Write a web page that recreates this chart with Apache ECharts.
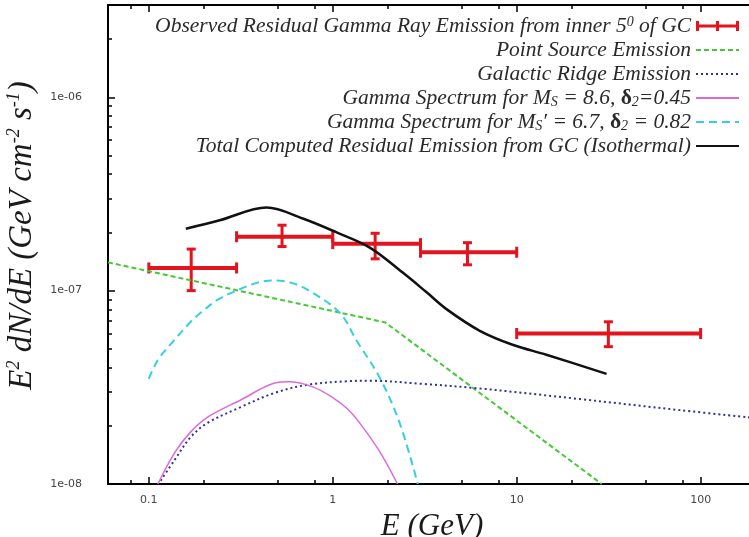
<!DOCTYPE html>
<html>
<head>
<meta charset="utf-8">
<script src="https://cdn.jsdelivr.net/npm/echarts@6/dist/echarts.min.js"></script>
<style>
  html, body { margin: 0; padding: 0; background: #fff; }
  #chart { width: 749px; height: 537px; }
</style>
</head>
<body>
<div id="chart"></div>
<script>
// Measured residual emission: energy bins (GeV) and E^2 dN/dE with errors
const binLow = [0.1, 0.3, 1, 3, 10];
const binHigh = [0.3, 1, 3, 10, 100];
const binCentre = [0.17, 0.53, 1.7, 5.4, 31.5];
const obsFlux = [1.31e-7, 1.9e-7, 1.75e-7, 1.58e-7, 6.0e-8];
const obsFluxLow = [1.0e-7, 1.69e-7, 1.46e-7, 1.36e-7, 5.13e-8];
const obsFluxHigh = [1.64e-7, 2.18e-7, 1.98e-7, 1.77e-7, 6.9e-8];

// Model components
const pointSourceE = [0.06, 1.93, 29];
const pointSourceFlux = [1.40e-7, 6.85e-8, 1.0e-8];

const ridgeE = [0.116, 0.138, 0.169, 0.209, 0.316, 0.484, 0.73, 1.2, 1.6, 3, 6.3, 22, 77, 200];
const ridgeFlux = [1.04e-8, 1.33e-8, 1.75e-8, 2.07e-8, 2.5e-8, 2.96e-8, 3.26e-8, 3.4e-8, 3.42e-8, 3.3e-8, 3.12e-8, 2.75e-8, 2.41e-8, 2.19e-8];

const spec86E = [0.112, 0.138, 0.169, 0.209, 0.316, 0.484, 0.58, 0.78, 1.0, 1.2, 1.4, 1.8, 2.25];
const spec86Flux = [1.0e-8, 1.45e-8, 1.86e-8, 2.22e-8, 2.72e-8, 3.33e-8, 3.38e-8, 3.18e-8, 2.8e-8, 2.45e-8, 2.07e-8, 1.47e-8, 1.0e-8];

const spec67E = [0.1, 0.112, 0.138, 0.169, 0.192, 0.237, 0.293, 0.39, 0.484, 0.59, 0.73, 1.09, 1.35, 1.8, 2.31, 2.9];
const spec67Flux = [3.5e-8, 4.38e-8, 5.57e-8, 6.9e-8, 7.7e-8, 8.98e-8, 9.9e-8, 1.1e-7, 1.13e-7, 1.1e-7, 1.01e-7, 7.7e-8, 5.5e-8, 3.55e-8, 2.07e-8, 1.0e-8];

const totalE = [0.159, 0.243, 0.437, 0.687, 1.05, 1.59, 2.4, 3.24, 4.17, 6.3, 9.5, 14.5, 30.8];
const totalFlux = [2.09e-7, 2.31e-7, 2.69e-7, 2.36e-7, 2.0e-7, 1.67e-7, 1.24e-7, 9.8e-8, 8.0e-8, 6.2e-8, 5.25e-8, 4.66e-8, 3.71e-8];

// Axis ticks and labels
const xMajorTicks = [0.1, 1, 10, 100];
const xTickLabels = ['0.1', '1', '10', '100'];
const xMinorTicks = [0.08, 0.2, 0.5, 0.8, 2, 5, 8, 20, 50, 80];
const yMajorTicks = [1e-8, 1e-7, 1e-6];
const yTickLabels = ['1e-08', '1e-07', '1e-06'];
const yMinorTicks = [2e-8, 3e-8, 4e-8, 5e-8, 6e-8, 7e-8, 8e-8, 9e-8,
                     2e-7, 3e-7, 4e-7, 5e-7, 6e-7, 7e-7, 8e-7, 9e-7, 2e-6];

// Series names and their legend captions (rich text)
const seriesNames = [
  'Observed Residual Gamma Ray Emission from inner 5 of GC',
  'Point Source Emission',
  'Galactic Ridge Emission',
  'Gamma Spectrum for MS = 8.6, d2=0.45',
  'Gamma Spectrum for MS\' = 6.7, d2 = 0.82',
  'Total Computed Residual Emission from GC (Isothermal)'
];
const legendCaptions = [
  'Observed Residual Gamma Ray Emission from inner 5{sup|0} of GC',
  'Point Source Emission',
  'Galactic Ridge Emission',
  'Gamma Spectrum for M{sub|S} = 8.6, {gr|δ}{sub|2}=0.45',
  'Gamma Spectrum for M{sub|S}′ = 6.7, {gr|δ}{sub|2} = 0.82',
  'Total Computed Residual Emission from GC (Isothermal)'
];

const RED = '#e2141d';
const SERIF = 'Liberation Serif';
const LEGEND_SIZE = 21.5;

function labelFor(ticks, labels) {
  return function (v) {
    const i = ticks.findIndex(t => Math.abs(Math.log10(t) - Math.log10(v)) < 1e-6);
    return i >= 0 ? labels[i] : '';
  };
}

function pairs(xs, ys) { return xs.map((x, i) => [x, ys[i]]); }

const tickLabelStyle = { color: '#444', fontFamily: 'DejaVu Sans', fontSize: 11 };

function xAxisDef(position, ticks, len, withLine, withLabels) {
  return {
    type: 'log', logBase: 10, min: 0.06, max: 200, position: position, gridIndex: 0,
    axisLine: { show: withLine, onZero: false, lineStyle: { color: '#000', width: 2 } },
    axisTick: { show: true, inside: true, length: len, customValues: ticks, lineStyle: { color: '#000', width: 1.5 } },
    axisLabel: withLabels
      ? Object.assign({ show: true, customValues: xMajorTicks, formatter: labelFor(xMajorTicks, xTickLabels), margin: 11 }, tickLabelStyle)
      : { show: false },
    splitLine: { show: false }, minorTick: { show: false }, minorSplitLine: { show: false }
  };
}

function yAxisDef(ticks, len, withLine, withLabels) {
  return {
    type: 'log', logBase: 10, min: 1e-8, max: 3e-6, position: 'left', gridIndex: 0,
    axisLine: { show: withLine, onZero: false, lineStyle: { color: '#000', width: 2 } },
    axisTick: { show: true, inside: true, length: len, customValues: ticks, lineStyle: { color: '#000', width: 1.5 } },
    axisLabel: withLabels
      ? Object.assign({ show: true, customValues: yMajorTicks, formatter: labelFor(yMajorTicks, yTickLabels), margin: 26 }, tickLabelStyle)
      : { show: false },
    splitLine: { show: false }, minorTick: { show: false }, minorSplitLine: { show: false }
  };
}

const xMain = xAxisDef('bottom', xMajorTicks, 7, true, true);
xMain.name = 'E (GeV)';
xMain.nameLocation = 'middle';
xMain.nameGap = 20;
xMain.nameTextStyle = { fontFamily: SERIF, fontStyle: 'italic', fontSize: 31, color: '#1a1a1a' };

const yMain = yAxisDef(yMajorTicks, 7, true, true);
yMain.name = 'E{sup|2} dN/dE (GeV cm{sup|-2} s{sup|-1})';
yMain.nameLocation = 'middle';
yMain.nameRotate = 90;
yMain.nameGap = 63;
yMain.nameTextStyle = {
  fontFamily: SERIF, fontStyle: 'italic', fontSize: 33, color: '#1a1a1a', lineHeight: 34,
  padding: [0, 0, 0, 18],
  rich: { sup: { fontFamily: SERIF, fontStyle: 'italic', fontSize: 18, color: '#1a1a1a', lineHeight: 18, verticalAlign: 'top' } }
};

function lineSeries(name, xs, ys, color, width, type, smooth) {
  return {
    type: 'line', name: name, data: pairs(xs, ys), showSymbol: false, symbol: 'none',
    smooth: smooth, clip: true, animation: false,
    lineStyle: { color: color, width: width, type: type },
    itemStyle: { color: color }
  };
}

const chart = echarts.init(document.getElementById('chart'), null, { renderer: 'canvas' });

chart.setOption({
  animation: false,
  backgroundColor: '#fff',
  grid: { left: 108, top: 5, width: 648, height: 479, containLabel: false, outerBoundsMode: 'none' },
  xAxis: [
    xMain,
    xAxisDef('bottom', xMinorTicks, 4, false, false),
    xAxisDef('top', xMajorTicks, 7, true, false),
    xAxisDef('top', xMinorTicks, 4, false, false)
  ],
  yAxis: [
    yMain,
    yAxisDef(yMinorTicks, 4, false, false)
  ],
  legend: {
    orient: 'vertical', align: 'right', right: 9, top: 15, padding: 0,
    itemWidth: 43, itemHeight: 10, itemGap: 2,
    selectedMode: false,
    itemStyle: { color: 'rgba(0,0,0,0)', opacity: 0, borderWidth: 0 },
    data: seriesNames.map((n, i) => i === 0
      ? { name: n, icon: 'path://M0,0H3V3.4H20V0H23V3.4H40V0H43V10H40V6.6H23V10H20V6.6H3V10H0Z',
          itemStyle: { color: RED, opacity: 1 } }
      : { name: n }),
    formatter: name => legendCaptions[seriesNames.indexOf(name)],
    textStyle: {
      fontFamily: SERIF, fontStyle: 'italic', fontSize: LEGEND_SIZE, color: '#2a2a2a', lineHeight: 22,
      rich: {
        sub: { fontFamily: SERIF, fontStyle: 'italic', fontSize: 14, color: '#2a2a2a', lineHeight: 13, verticalAlign: 'bottom' },
        sup: { fontFamily: SERIF, fontStyle: 'italic', fontSize: 14, color: '#2a2a2a', lineHeight: 13, verticalAlign: 'top' },
        gr: { fontFamily: SERIF, fontStyle: 'normal', fontWeight: 'bold', fontSize: LEGEND_SIZE, color: '#2a2a2a', lineHeight: 22 }
      }
    }
  },
  series: [
    {
      type: 'custom', name: seriesNames[0], clip: true,
      itemStyle: { color: RED },
      encode: { x: [0, 2, 3], y: [1, 4, 5] },
      data: binCentre.map((e, i) => [e, obsFlux[i], binLow[i], binHigh[i], obsFluxLow[i], obsFluxHigh[i]]),
      renderItem: function (params, api) {
        const c = api.coord([api.value(0), api.value(1)]);
        const l = api.coord([api.value(2), api.value(1)]);
        const r = api.coord([api.value(3), api.value(1)]);
        const lo = api.coord([api.value(0), api.value(4)]);
        const hi = api.coord([api.value(0), api.value(5)]);
        const style = { fill: api.visual('color') };
        return {
          type: 'group',
          children: [
            { type: 'rect', shape: { x: l[0], y: c[1] - 2, width: r[0] - l[0], height: 4 }, style: style },
            { type: 'rect', shape: { x: l[0] - 1.5, y: c[1] - 5.5, width: 3, height: 11 }, style: style },
            { type: 'rect', shape: { x: r[0] - 1.5, y: c[1] - 5.5, width: 3, height: 11 }, style: style },
            { type: 'rect', shape: { x: c[0] - 1.5, y: hi[1], width: 3, height: lo[1] - hi[1] }, style: style },
            { type: 'rect', shape: { x: c[0] - 4.5, y: hi[1] - 1.5, width: 9, height: 3 }, style: style },
            { type: 'rect', shape: { x: c[0] - 4.5, y: lo[1] - 1.5, width: 9, height: 3 }, style: style }
          ]
        };
      }
    },
    lineSeries(seriesNames[1], pointSourceE, pointSourceFlux, '#45c935', 2, [5, 3], false),
    lineSeries(seriesNames[2], ridgeE, ridgeFlux, '#2f2f9e', 2, [2, 3], 0.35),
    lineSeries(seriesNames[3], spec86E, spec86Flux, '#dc6ade', 1.5, 'solid', 0.35),
    lineSeries(seriesNames[4], spec67E, spec67Flux, '#36d0dc', 2, [8, 5], 0.35),
    lineSeries(seriesNames[5], totalE, totalFlux, '#111111', 2.5, 'solid', 0.35)
  ]
});
</script>
</body>
</html>
